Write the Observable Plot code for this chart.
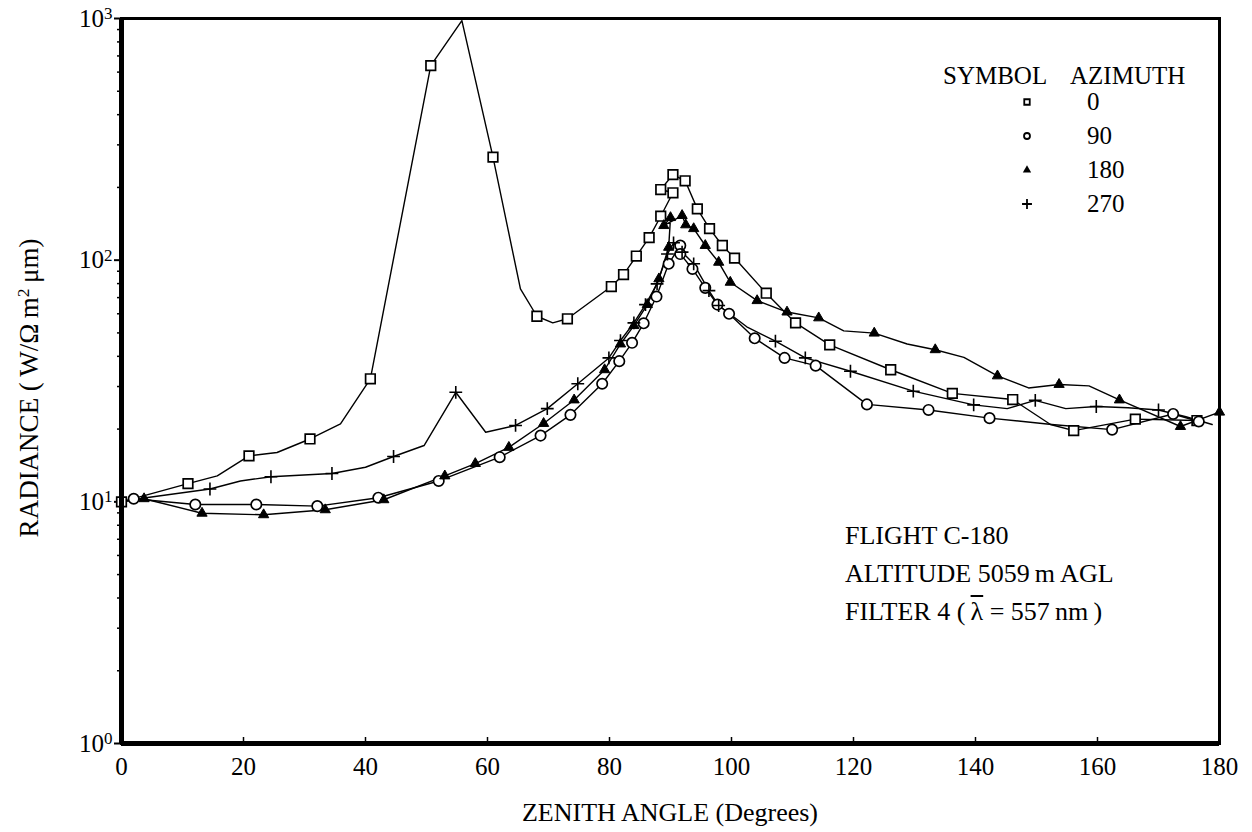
<!DOCTYPE html>
<html><head><meta charset="utf-8">
<script src="https://cdn.jsdelivr.net/npm/d3@7"></script>
<script src="https://cdn.jsdelivr.net/npm/@observablehq/plot@0.6"></script>
<style>
body{margin:0;background:#fff;}
#wrap{position:relative;width:1252px;height:832px;font-family:"Liberation Serif","Times New Roman",serif;color:#000;overflow:hidden;}
.t{position:absolute;white-space:nowrap;line-height:1;}
</style></head><body><div id="wrap"></div>
<script>
// ---------- data ----------
const azimuths = [0, 90, 180, 270];
const symbols = ["square", "circle", "triangle", "plus"];

const angle0 = [0,10.9,15.7,20.9,25.5,30.9,35.9,40.8,50.7,55.8,60.9,65.4,68.1,70.7,73.1,80.3,82.3,84.4,86.5,88.4,90.4,88.4,90.4,92.4,94.4,96.4,98.5,100.5,105.7,110.5,116.1,126.1,136.2,146.1,152.3,156.1,166.2,176.3];
const value0 = [10,11.9,12.8,15.5,16.0,18.2,21.0,32.3,638,980,267,76,58.6,55,57.2,77.8,87.2,104,124,152,190,196,226,213,163,135,115,102,73,55,44.6,35.2,28.1,26.5,20.9,19.7,22.0,21.7];
const mark0  = [1,1,0,1,0,1,0,1,1,0,1,0,1,0,1,1,1,1,1,1,1,1,1,1,1,1,1,1,1,1,1,1,1,1,0,1,1,1];

const angle90 = [0,2,12.1,22.1,32.1,42.1,52,62,68.7,73.6,78.8,81.6,83.7,85.6,87.7,89.7,91.6,91.6,93.6,95.7,97.7,99.6,103.8,108.7,113.8,122.2,132.3,142.3,152.5,162.4,172.4,176.6];
const value90 = [10,10.3,9.75,9.75,9.6,10.4,12.2,15.3,18.8,22.9,30.8,38.2,45.5,54.8,70.7,96.6,115,106,92,76.8,65.5,60,47.5,39.4,36.6,25.3,24,22.2,20.9,19.9,23.1,21.5];
const mark90  = [0,1,1,1,1,1,1,1,1,1,1,1,1,1,1,1,1,1,1,1,1,1,1,1,1,1,1,1,0,1,1,1];

const angle180 = [0,3.7,13.2,23.3,33.4,43,53,58,63.5,69.2,74.2,79.2,81.8,84,86.2,88.1,89.7,90,88.9,91.9,92.5,93.8,95.7,97.9,99.8,104.2,109.1,114.3,118.4,123.4,128.8,133.4,138.1,143.6,148.7,153.7,158.6,163.6,173.6,180];
const value180 = [10,10.3,8.97,8.84,9.27,10.2,12.8,14.4,16.8,21.1,26.4,35.2,45,53.6,65.5,83.7,113,150,139,153,140,135,115,98,81,68,61,57.7,51,49.9,45,42.6,39.6,33.2,29.6,30.6,30.2,26.4,20.5,23.5];
const mark180  = [0,1,1,1,1,1,1,1,1,1,1,1,1,1,1,1,1,1,1,1,1,1,1,1,1,1,1,1,0,1,0,1,0,1,0,1,0,1,1,1];

const angle270 = [0,4,14.5,19.5,24.5,34.5,40,44.6,49.6,54.8,59.7,64.6,69.8,74.8,79.9,81.8,84,85.9,87.8,89.5,90.5,91.9,93.8,96.3,97.9,102.5,107.2,112.1,119.5,129.8,139.7,145.2,149.8,154.8,159.8,165,170,174.5,178.8];
const value270 = [10,10.4,11.3,12.2,12.7,13.1,13.9,15.4,17.1,28.4,19.4,20.7,24.3,30.8,39.4,46.5,55,65.5,79.8,106,118,108,96.6,74.8,64.9,53,46.2,39.4,34.7,28.7,25.2,24.3,26.3,24.3,24.8,24.5,24,22.5,20.9];
const mark270  = [0,0,1,0,1,1,0,1,0,1,0,1,1,1,1,1,1,1,1,1,1,1,1,1,1,0,1,1,1,1,1,0,1,0,1,0,1,0,0];

const xTicks = [0,20,40,60,80,100,120,140,160,180];
const yTicks = [1,10,100,1000];
const yExp = ["0","1","2","3"];
const yMinor = [2,3,4,5,6,7,8,9,20,30,40,50,60,70,80,90,200,300,400,500,600,700,800,900];

const legendTitle = ["SYMBOL", "AZIMUTH"];
const notes = ["FLIGHT C-180", "ALTITUDE 5059\u2009m  AGL"];

// ---------- build ----------
const seriesList = [
  {az: azimuths[0], a: angle0, v: value0, m: mark0},
  {az: azimuths[1], a: angle90, v: value90, m: mark90},
  {az: azimuths[2], a: angle180, v: value180, m: mark180},
  {az: azimuths[3], a: angle270, v: value270, m: mark270}
];
const rows = seriesList.flatMap(s => s.a.map((a, i) => ({az: s.az, angle: a, value: s.v[i], marked: s.m[i]})));
const pts = az => rows.filter(d => d.az === az && d.marked);

const FONT = "Liberation Serif, Times New Roman, serif";

const chart = Plot.plot({
  width: 1252, height: 832,
  marginLeft: 121, marginRight: 33, marginTop: 18, marginBottom: 89,
  style: {fontFamily: FONT, background: "white", color: "black"},
  x: {domain: [0, 180], label: null},
  y: {type: "log", domain: [1, 1000], label: null},
  marks: [
    Plot.axisX({ticks: xTicks, tickSize: 0, tickPadding: 14, fontSize: 25, label: null}),
    Plot.axisX({ticks: xTicks.slice(1, -1), tickSize: 6, dy: -6, tickFormat: () => "", label: null, strokeWidth: 1.5}),
    Plot.axisY({ticks: yTicks, tickSize: 7, tickPadding: 2, fontSize: 25, tickFormat: d => "10|" + yExp[yTicks.indexOf(d)], label: null, strokeWidth: 2}),
    Plot.axisY({ticks: yMinor, tickSize: 4, tickFormat: () => "", label: null, strokeWidth: 1.5}),
    Plot.line(rows, {x: "angle", y: "value", z: "az", stroke: "black", strokeWidth: 1.4}),
    Plot.dot(pts(0), {x: "angle", y: "value", symbol: () => symbols[0], r: 5.4, fill: "white", stroke: "black", strokeWidth: 1.7}),
    Plot.dot(pts(90), {x: "angle", y: "value", symbol: () => symbols[1], r: 5.2, fill: "white", stroke: "black", strokeWidth: 1.7}),
    Plot.dot(pts(180), {x: "angle", y: "value", symbol: () => symbols[2], r: 3.8, fill: "black", stroke: "black", strokeWidth: 1}),
    Plot.dot(pts(270), {x: "angle", y: "value", symbol: () => symbols[3], r: 4.2, fill: "none", stroke: "black", strokeWidth: 1.6}),
    Plot.frame({stroke: "black", strokeWidth: 3}),
    Plot.ruleX([0], {stroke: "black", strokeWidth: 5}),
    Plot.ruleY([1], {stroke: "black", strokeWidth: 5})
  ]
});

const wrap = document.getElementById("wrap");
wrap.appendChild(chart);

// superscript exponents on the y tick labels
d3.select(chart).selectAll("text").each(function() {
  const t = this.textContent;
  if (t && t.startsWith("10|")) {
    const e = t.split("|")[1];
    const sel = d3.select(this);
    sel.text("10");
    sel.append("tspan").attr("dy", "-0.45em").attr("font-size", "0.68em").text(e);
  }
});

function addText(html, left, top, size, extra) {
  const d = document.createElement("div");
  d.className = "t";
  d.style.left = left + "px";
  d.style.top = top + "px";
  d.style.fontSize = size + "px";
  if (extra) Object.assign(d.style, extra);
  d.innerHTML = html;
  wrap.appendChild(d);
  return d;
}

// axis titles
addText("RADIANCE (\u2009W/\u03A9\u2009m<sup style='font-size:0.65em;vertical-align:0.55em'>2</sup>\u2009\u03BCm)", 29, 388, 27, {transform: "translate(-50%,-50%) rotate(-90deg)"});
addText("ZENITH ANGLE (Degrees)", 670, 813, 26, {transform: "translate(-50%,-50%)"});

// legend
addText(legendTitle[0], 943, 63, 25);
addText(legendTitle[1], 1070, 63, 25);
const rowY = [102, 136, 170, 204];
const legSizes = [30, 28, 30, 34];
azimuths.forEach((az, i) => {
  const s = document.createElementNS("http://www.w3.org/2000/svg", "svg");
  s.setAttribute("width", 16); s.setAttribute("height", 16);
  s.style.position = "absolute"; s.style.left = (1027 - 8) + "px"; s.style.top = (rowY[i] - 8) + "px";
  const symType = {square: d3.symbolSquare, circle: d3.symbolCircle, triangle: d3.symbolTriangle, plus: d3.symbolPlus}[symbols[i]];
  const p = document.createElementNS("http://www.w3.org/2000/svg", "path");
  p.setAttribute("d", d3.symbol(symType, legSizes[i])());
  p.setAttribute("transform", "translate(8,8)");
  if (symbols[i] === "triangle") { p.setAttribute("fill", "black"); }
  else { p.setAttribute("fill", symbols[i] === "plus" ? "none" : "white"); p.setAttribute("stroke", "black"); p.setAttribute("stroke-width", 1.8); }
  s.appendChild(p);
  wrap.appendChild(s);
  addText(String(az), 1087, rowY[i] - 13, 25);
});

// flight annotations
addText(notes[0], 845, 523, 26);
addText(notes[1], 845, 561, 26);
addText("FILTER 4 (\u2009<span style='text-decoration:overline'>\u03BB</span> = 557\u2009nm\u2009)", 845, 599, 26);
</script>
</body></html>
